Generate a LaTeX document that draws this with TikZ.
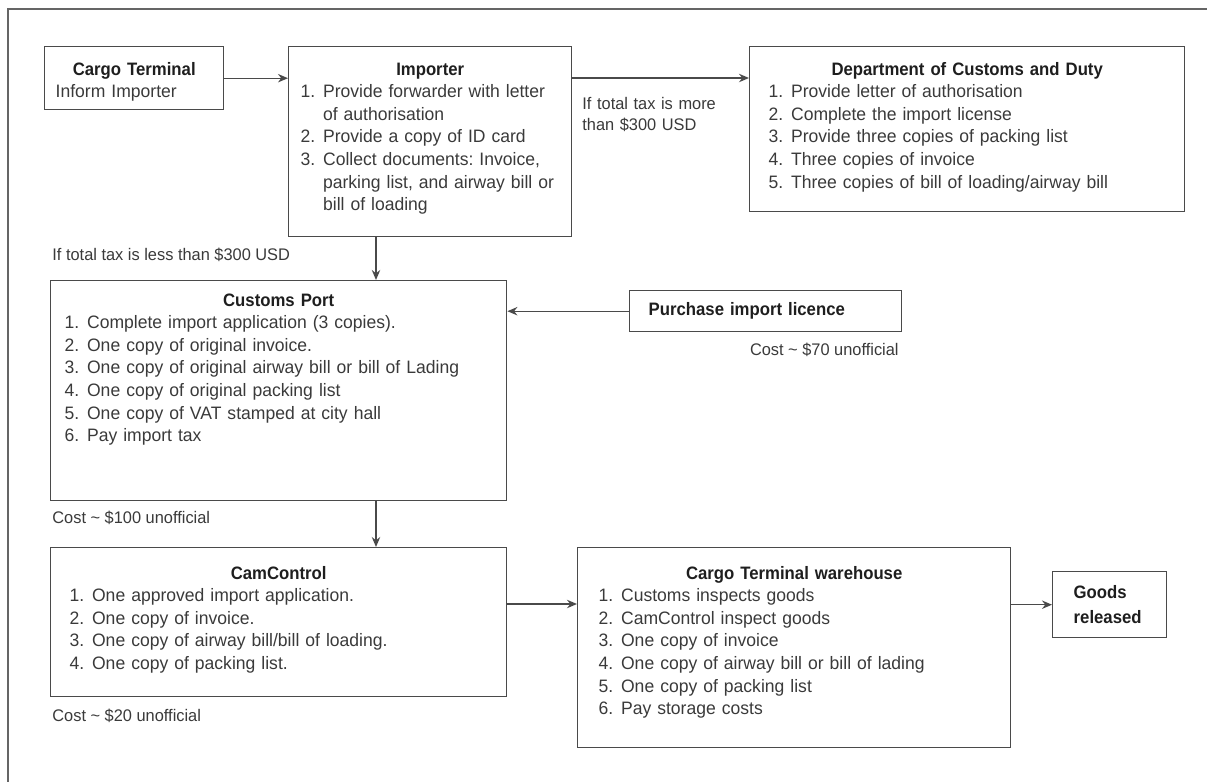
\documentclass[tikz,border=0pt]{standalone}
\usepackage{fontspec}
\setmainfont{Liberation Sans}[FakeStretch=0.975, BoldFeatures={FakeStretch=0.93}]
\usepackage{xcolor}
\usetikzlibrary{arrows.meta,positioning,calc}
\definecolor{ccline}{HTML}{4A4A4A}
\definecolor{cctext}{HTML}{3A3A3A}
\definecolor{cctitle}{HTML}{1E1E1E}
\newcommand{\boxtitle}[1]{{\centering\bfseries\color{cctitle}#1\par}}
\newcommand{\stepitem}[2]{\par\noindent\makebox[11.2pt][l]{#1}%
  \parbox[t]{\dimexpr\linewidth-11.2pt\relax}{\raggedright#2\strut}\par\prevdepth=\dp\strutbox}

\begin{document}
\begin{tikzpicture}[x=0.5pt, y=-0.5pt,
    stepbox/.style={draw=ccline, line width=0.7pt, inner sep=0pt, anchor=north west},
    steptext/.style={anchor=base, inner sep=0pt, align=left, text=cctext, font=\fontsize{9pt}{11.33pt}\selectfont\frenchspacing},
    boldbox/.style={stepbox, align=left, text=cctitle, font=\fontsize{9pt}{12.5pt}\selectfont\bfseries},
    lab/.style={anchor=base west, inner sep=0pt, align=left, text=cctext, font=\fontsize{8.4pt}{10.5pt}\selectfont},
    arrow/.style={-{Stealth[length=5pt,width=4.2pt]}, line width=0.7pt, color=ccline}
  ]
    \useasboundingbox (0,0) rectangle (1207,782);
    \draw[ccline!85, line width=0.75pt] (8,782) -- (8,9) -- (1207,9);

    % top row
    \node[stepbox, minimum width=89.5pt, minimum height=31.5pt] (cargo) at (44,46) {};
    \node[steptext, text width=78.5pt] (cargotxt) at ($(cargo.north)+(0,29)$)
      {\boxtitle{Cargo Terminal}Inform Importer};

    \node[stepbox, minimum width=141.5pt, minimum height=95pt] (importer) at (288,46) {};
    \node[steptext, text width=129.5pt] (importertxt) at ($(importer.north)+(0,29)$)
      {\boxtitle{Importer}
       \stepitem{1.}{Provide forwarder with letter\\of authorisation}
       \stepitem{2.}{Provide a copy of ID card}
       \stepitem{3.}{Collect documents: Invoice,\\parking list, and airway bill or\\bill of loading}};

    \node[stepbox, minimum width=217.5pt, minimum height=82.5pt] (dept) at (749,46) {};
    \node[steptext, text width=198.5pt] (depttxt) at ($(dept.north)+(0,29)$)
      {\boxtitle{Department of Customs and Duty}
       \stepitem{1.}{Provide letter of authorisation}
       \stepitem{2.}{Complete the import license}
       \stepitem{3.}{Provide three copies of packing list}
       \stepitem{4.}{Three copies of invoice}
       \stepitem{5.}{Three copies of bill of loading/airway bill}};

    % middle row
    \node[stepbox, minimum width=228pt, minimum height=110pt] (port) at (50,280) {};
    \node[steptext, text width=214pt] (porttxt) at ($(port.north)+(0,26)$)
      {\boxtitle{Customs Port}
       \stepitem{1.}{Complete import application (3 copies).}
       \stepitem{2.}{One copy of original invoice.}
       \stepitem{3.}{One copy of original airway bill or bill of Lading}
       \stepitem{4.}{One copy of original packing list}
       \stepitem{5.}{One copy of VAT stamped at city hall}
       \stepitem{6.}{Pay import tax}};

    \node[boldbox, minimum width=136pt, minimum height=20.5pt, text width=117pt, inner xsep=9.5pt] (licence) at (629,290)
      {Purchase import licence};

    % bottom row
    \node[stepbox, minimum width=228pt, minimum height=74.5pt] (cam) at (50,547) {};
    \node[steptext, text width=209pt] (camtxt) at ($(cam.north)+(0,32)$)
      {\boxtitle{CamControl}
       \stepitem{1.}{One approved import application.}
       \stepitem{2.}{One copy of invoice.}
       \stepitem{3.}{One copy of airway bill/bill of loading.}
       \stepitem{4.}{One copy of packing list.}};

    \node[stepbox, minimum width=216.5pt, minimum height=100pt] (ware) at (577,547) {};
    \node[steptext, text width=195.5pt] (waretxt) at ($(ware.north)+(0,32)$)
      {\boxtitle{Cargo Terminal warehouse}
       \stepitem{1.}{Customs inspects goods}
       \stepitem{2.}{CamControl inspect goods}
       \stepitem{3.}{One copy of invoice}
       \stepitem{4.}{One copy of airway bill or bill of lading}
       \stepitem{5.}{One copy of packing list}
       \stepitem{6.}{Pay storage costs}};

    \node[boldbox, minimum width=57pt, minimum height=33pt, text width=36pt, inner xsep=10.5pt] (goods) at (1052,571)
      {Goods\\released};

    % labels
    \node[lab, text width=75pt] (morelbl) at (582,109) {If total tax is more\\than \$300 USD};
    \node[lab] (lesslbl) at (52,260) {If total tax is less than \$300 USD};
    \node[lab, anchor=base east] (licencecost) at (899,355) {Cost \textasciitilde{} \$70 unofficial};
    \node[lab] (portcost) at (52,523) {Cost \textasciitilde{} \$100 unofficial};
    \node[lab] (camcost) at (52,721) {Cost \textasciitilde{} \$20 unofficial};

    % connectors
    \coordinate (impout) at ($(importer.north east)+(0,32)$);
    \coordinate (impdown) at ($(importer.south west)+(88,0)$);
    \coordinate (portdown) at ($(port.south west)+(326,0)$);
    \coordinate (camout) at ($(cam.north east)+(0,57)$);
    \draw[arrow] (cargo.east) -- (cargo.east -| importer.west);
    \draw[arrow] (impout) -- (impout -| dept.west);
    \draw[arrow] (impdown) -- (impdown |- port.north);
    \draw[arrow] (licence.west) -- (licence.west -| port.east);
    \draw[arrow] (portdown) -- (portdown |- cam.north);
    \draw[arrow] (camout) -- (camout -| ware.west);
    \draw[arrow] (goods.west -| ware.east) -- (goods.west);
  \end{tikzpicture}
\end{document}
